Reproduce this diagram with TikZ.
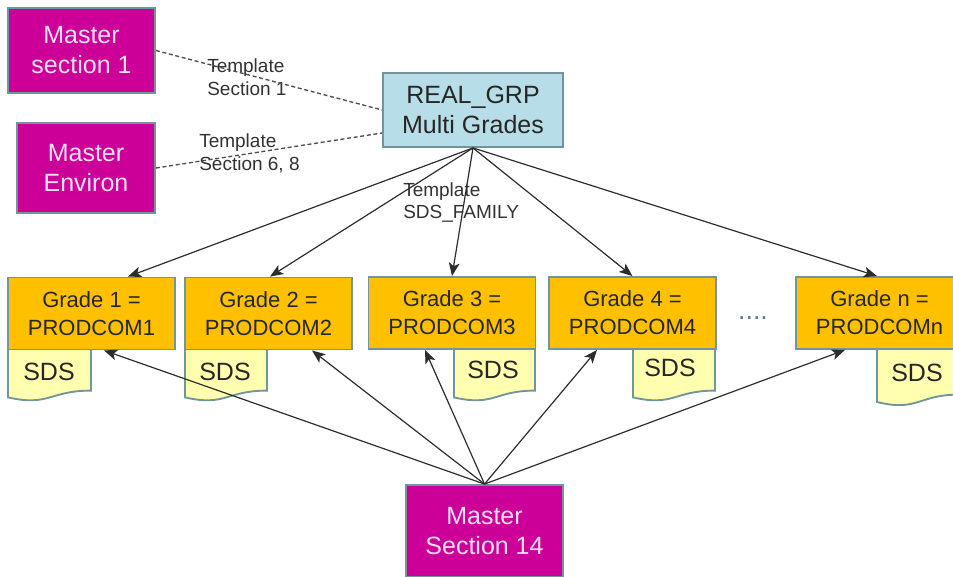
\documentclass[tikz,border=0pt]{standalone}
\usepackage{fontspec}
\setmainfont{Liberation Sans}
\usetikzlibrary{arrows.meta,calc}
\definecolor{mag}{RGB}{204,0,153}
\definecolor{mtext}{RGB}{252,225,246}
\definecolor{edgec}{RGB}{112,150,156}
\definecolor{rgfill}{RGB}{183,222,232}
\definecolor{gfill}{RGB}{255,192,0}
\definecolor{sfill}{RGB}{255,255,175}
\definecolor{lnc}{RGB}{45,45,45}
\definecolor{lbl}{RGB}{50,50,50}
\definecolor{dotc}{RGB}{100,115,150}
\begin{document}
\begin{tikzpicture}[x=0.75pt,y=-0.75pt,
  boxbase/.style={draw=edgec,line width=1.4pt,align=center,inner sep=0pt},
  mbox/.style 2 args={boxbase,fill=mag,text=mtext,font=\fontsize{18.75}{22.5}\selectfont,minimum width=#1*0.75pt,minimum height=#2*0.75pt},
  rgbox/.style 2 args={boxbase,fill=rgfill,text=black!85,font=\fontsize{18.75}{22.5}\selectfont,minimum width=#1*0.75pt,minimum height=#2*0.75pt},
  gbox/.style={boxbase,fill=gfill,text=black!85,font=\fontsize{16.5}{21}\selectfont,minimum width=167*0.75pt,minimum height=72*0.75pt},
  sdsshape/.style={draw=edgec,line width=1.4pt,fill=sfill},
  sdstext/.style={text=black!85,font=\fontsize{18.75}{22}\selectfont,inner sep=0pt},
  tlabel/.style={anchor=west,align=left,text=lbl,font=\fontsize{14.25}{17}\selectfont,inner sep=0pt},
  dline/.style={draw=lnc!85,dash pattern=on 3pt off 2pt,line width=1pt},
  arr/.style={draw=lnc,line width=0.9pt,-{Stealth[length=10pt,width=8pt,inset=2.5pt]}}
]
\useasboundingbox (0,0) rectangle (953,576);
\clip (0,0) rectangle (953,576);
% SDS document shapes
\path[sdsshape] (8,345) -- (91,345) -- (91,390.6) .. controls (49.5,390.6) and (49.5,406.7) .. (8,397.4) -- cycle;
\path[sdsshape] (185,345) -- (267,345) -- (267,390.6) .. controls (226,390.6) and (226,406.7) .. (185,397.4) -- cycle;
\path[sdsshape] (454,345) -- (535,345) -- (535,390.6) .. controls (494.5,390.6) and (494.5,406.7) .. (454,397.4) -- cycle;
\path[sdsshape] (633,345) -- (715,345) -- (715,390.6) .. controls (674,390.6) and (674,406.7) .. (633,397.4) -- cycle;
\path[sdsshape] (877,345) -- (959,345) -- (959,394.6) .. controls (918,394.6) and (918,412) .. (877,402) -- cycle;
\node[sdstext] (s1) at (49,372) {SDS};
\node[sdstext] (s2) at (225,372) {SDS};
\node[sdstext] (s3) at (493,370) {SDS};
\node[sdstext] (s4) at (670,368) {SDS};
\node[sdstext] (sn) at (917,373) {SDS};
% boxes
\node[mbox={147}{85}] (ms1) at (81.5,50.5) {Master\\section 1};
\node[mbox={138}{90}] (me) at (86,168) {Master\\Environ};
\node[rgbox={180}{74}] (rg) at (473,110) {REAL\_GRP\\Multi Grades};
\node[gbox] (g1) at (91.5,313.5) {Grade 1 =\\PRODCOM1};
\node[gbox] (g2) at (268.5,313.5) {Grade 2 =\\PRODCOM2};
\node[gbox] (g3) at (452,313) {Grade 3 =\\PRODCOM3};
\node[gbox] (g4) at (632.5,313) {Grade 4 =\\PRODCOM4};
\node[gbox] (gn) at (879.5,313) {Grade n =\\PRODCOMn};
\node[mbox={157}{92}] (ms14) at (484.5,531) {Master\\Section 14};
\node[text=dotc,font=\fontsize{20}{20}\selectfont,inner sep=0pt] (dots) at (753,318) {....};
% labels
\node[tlabel] (l1) at (207,77.5) {Template\\Section 1};
\node[tlabel] (l2) at (199,153.5) {Template\\Section 6, 8};
\node[tlabel] (l3) at (403,202.5) {Template\\SDS\_FAMILY};
% dashed connectors
\draw[dline] (ms1.east) -- (rg.west);
\draw[dline] (me.east) -- ($(rg.west)+(0,23)$);
% arrows from REAL_GRP
\draw[arr] (rg.south) -- ($(g1.north)+(36.5,0)$);
\draw[arr] (rg.south) -- ($(g2.north)+(1.5,0)$);
\draw[arr] (rg.south) -- (g3.north);
\draw[arr] (rg.south) -- (g4.north);
\draw[arr] (rg.south) -- ($(gn.north)+(-2.5,0)$);
% arrows from Master Section 14
\draw[arr] (ms14.north) -- ($(g1.south)+(12.5,0)$);
\draw[arr] (ms14.north) -- ($(g2.south)+(43.5,0)$);
\draw[arr] (ms14.north) -- ($(g3.south)+(-27,0)$);
\draw[arr] (ms14.north) -- ($(g4.south)+(-35.5,0)$);
\draw[arr] (ms14.north) -- ($(gn.south)+(-34.5,0)$);
\end{tikzpicture}
\end{document}
